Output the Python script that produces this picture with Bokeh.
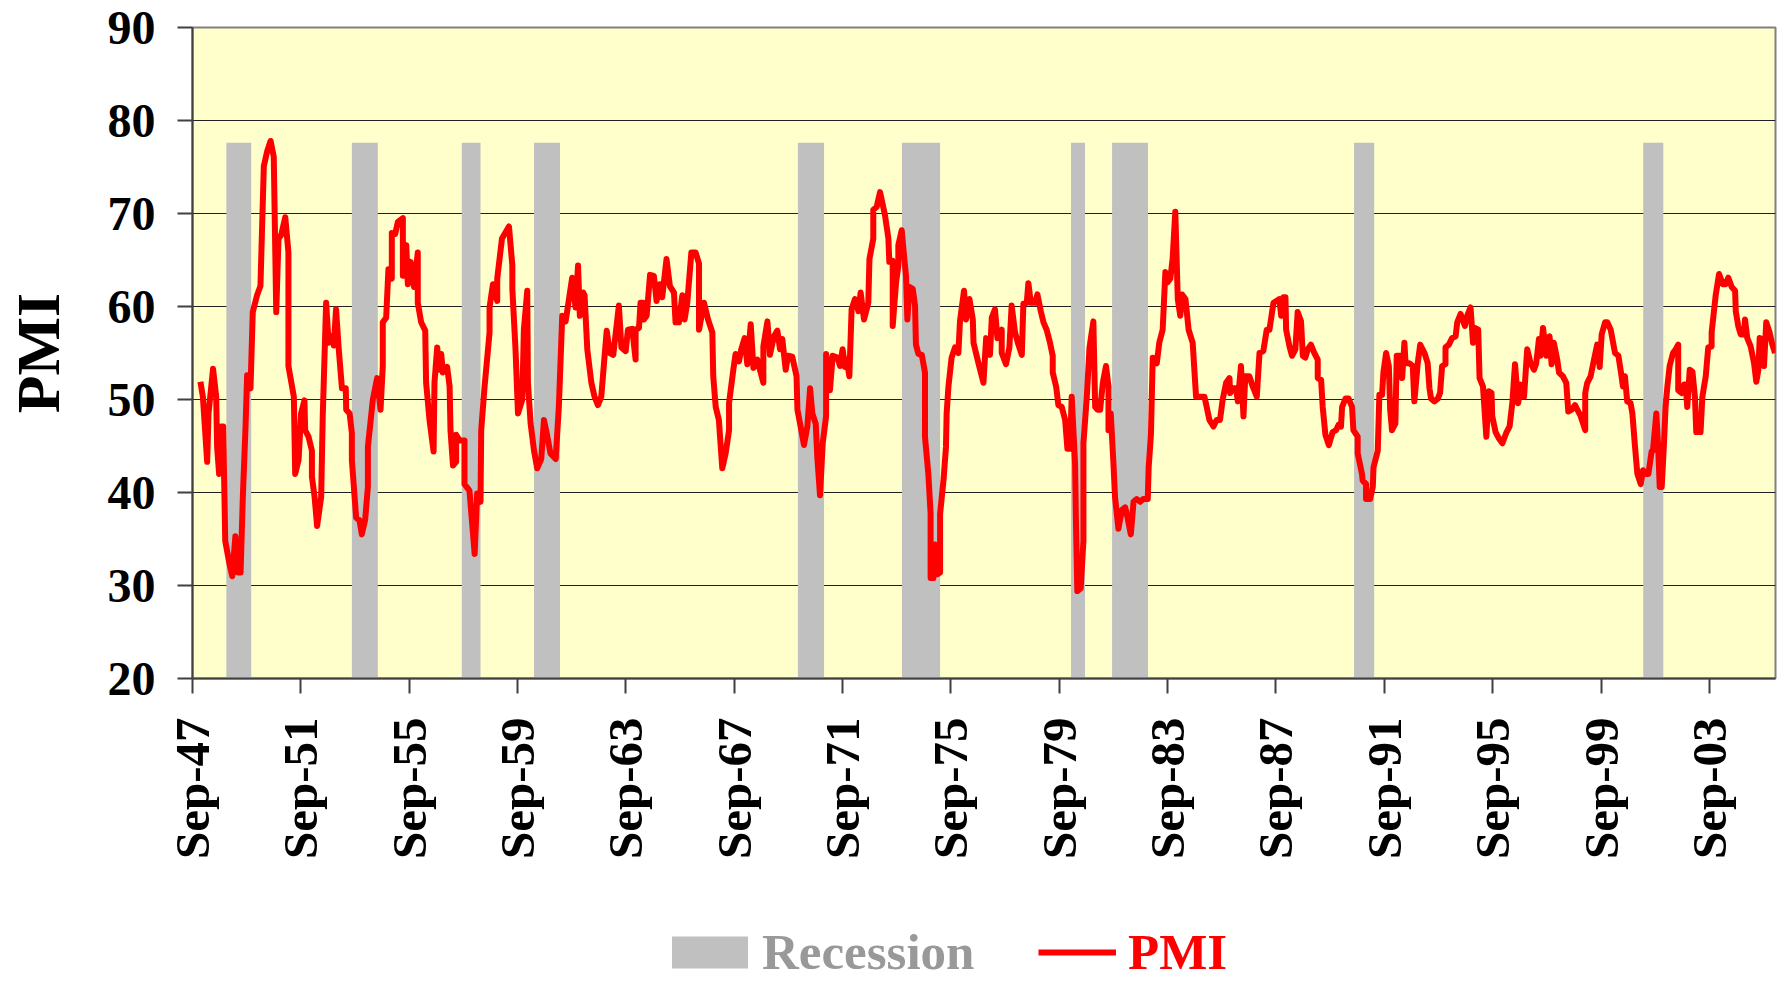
import math
from bokeh.plotting import figure
from bokeh.layouts import column
from bokeh.models import Range1d, FixedTicker, Legend, LegendItem, ColumnDataSource
from bokeh.embed import file_html
from bokeh.resources import INLINE

# ---------------- data ----------------
# x axis: months since Sep-1947; a tick label every 48 months
tick_labels = ["Sep-47", "Sep-51", "Sep-55", "Sep-59", "Sep-63", "Sep-67", "Sep-71",
               "Sep-75", "Sep-79", "Sep-83", "Sep-87", "Sep-91", "Sep-95", "Sep-99", "Sep-03"]
months_per_label = 48
x_end_month = 701.3

# recession periods (months since Sep-1947)
rec_start = [15.0, 70.6, 119.3, 151.3, 268.2, 314.3, 389.2, 407.4, 514.6, 642.7]
rec_end = [26.0, 82.1, 127.6, 162.8, 279.8, 331.2, 395.4, 423.3, 523.5, 651.6]
rec_level = 77.6
rec_floor = 20

# PMI (months since Sep-1947, index value)
pmi_month = [
    3.5, 4.6, 6.5, 7.1, 9.1, 10.5, 10.9, 11.8, 12.7, 13.6, 14.5, 16.4, 17.6, 19.0, 20.1, 21.3,
    22.3, 23.5, 24.2, 25.7, 26.7, 28.6, 30.1, 31.6, 33.1, 34.6, 36.0, 37.1, 38.1, 39.3, 41.1,
    42.5, 42.5, 44.9, 45.5, 47.0, 48.1, 49.6, 49.9, 51.4, 52.9, 52.9, 54.1, 55.2, 57.0, 57.7,
    59.2, 60.3, 61.7, 62.6, 63.6, 64.7, 66.2, 67.9, 68.1, 69.6, 70.6, 70.6, 72.5, 74.0, 75.0,
    76.5, 77.7, 77.7, 79.9, 81.8, 83.3, 84.3, 84.3, 85.8, 86.8, 88.3, 88.3, 89.8, 91.0, 93.2,
    93.2, 94.7, 95.4, 96.6, 98.1, 99.8, 99.8, 101.3, 103.1, 103.5, 105.0, 106.8, 107.2, 108.4,
    109.4, 110.2, 110.9, 112.8, 113.9, 114.3, 115.4, 116.8, 116.8, 118.3, 120.5, 120.5, 122.7,
    125.0, 126.1, 127.6, 127.9, 129.4, 131.6, 131.6, 133.1, 135.0, 135.0, 137.1,
    140.2, 141.7, 141.7, 143.1, 144.2, 146.1, 146.8, 148.3, 148.6, 149.8, 151.3, 152.7, 154.5,
    155.7, 156.9, 158.6, 160.9, 162.3, 163.8, 165.3, 166.8, 168.2, 169.7, 170.8, 171.6, 173.1,
    173.7, 174.9, 176.7, 178.1, 179.6, 181.1, 182.3, 183.5, 184.9, 186.4, 188.9, 190.0, 191.9,
    192.9, 194.8, 196.3, 196.3, 197.8, 198.5, 199.7, 200.0, 201.2, 202.7, 204.4, 205.6, 207.1,
    208.1, 210.0, 211.5, 213.3, 214.0, 215.5, 217.0, 218.0, 219.2, 221.0, 222.9, 224.4, 224.4,
    226.6, 228.4, 230.3, 230.7, 231.8, 233.2, 234.7, 236.2, 237.7, 237.7, 239.6, 240.6, 242.1,
    243.1, 244.6, 245.8, 247.3, 248.5, 250.2, 252.9, 252.9, 254.7, 255.8, 257.6, 259.1, 260.3,
    261.3, 262.8, 263.8, 265.7, 267.6, 268.0, 269.4, 270.9, 272.4, 273.6, 274.6, 276.1, 276.8,
    278.0, 279.2, 280.7, 280.7, 282.4, 283.6, 285.7, 286.9, 288.0, 289.1, 289.8, 291.0, 292.0,
    293.5, 295.0, 296.0, 297.5, 299.4, 299.9, 301.6, 301.6, 303.1, 304.6, 306.8, 308.3, 308.7,
    310.2, 310.2, 311.7, 312.7, 312.7, 314.2, 315.2, 316.1, 316.7, 317.6, 319.1, 320.1, 320.5,
    321.6, 323.1, 324.5, 324.5, 326.0, 327.0, 327.0, 328.2, 329.0, 330.0, 331.2, 331.2, 332.7,
    333.8, 334.1, 334.9, 336.3, 337.8, 339.3, 340.0, 341.8, 342.7, 344.2, 345.7, 346.0, 348.2,
    350.4, 351.6, 353.3, 354.1, 355.5, 356.6, 358.5, 358.5, 360.4, 361.9, 362.9, 364.4, 365.9,
    367.4, 368.1, 369.6, 370.3, 371.4, 373.3, 374.3, 375.8, 377.0, 378.4, 379.9, 381.1, 381.1,
    382.6, 383.6, 385.1, 386.6, 387.6, 388.8, 389.5, 391.0, 391.4, 392.0, 393.5, 394.7, 394.7,
    396.2, 397.4, 399.1, 399.9, 400.9, 402.1, 403.3, 404.7, 405.8, 405.8, 406.8, 408.0, 408.7,
    410.2, 411.7, 413.2, 413.9, 415.7, 416.9, 418.3, 419.8, 421.2, 423.2, 423.6, 424.6, 425.4,
    427.2, 428.3, 429.8, 431.0, 432.0, 433.2, 434.2, 435.4, 436.5, 437.6, 438.4, 439.9, 441.3,
    443.1, 444.6, 446.1, 448.3, 449.3, 450.5, 452.3, 453.7, 455.2, 456.4, 457.9, 459.4, 459.7,
    461.1, 462.3, 463.1, 464.5, 465.6, 466.4, 468.2, 469.7, 471.5, 472.7, 474.4, 475.9, 477.1,
    478.9, 480.3, 481.5, 482.3, 483.3, 484.2, 484.5, 486.0, 487.1, 488.6, 489.6, 491.1, 491.9,
    493.0, 494.1, 495.5, 497.0, 498.5, 498.5, 500.0, 500.7, 501.9, 503.4, 505.1, 506.6, 507.8,
    508.8, 509.3, 510.8, 512.2, 513.7, 514.3, 516.2, 516.2, 518.1, 518.4, 519.9, 519.9, 521.7,
    522.9, 523.2, 525.1, 525.8, 527.0, 527.6, 528.8, 530.0, 530.6, 531.4, 532.9, 533.5, 535.0,
    535.9, 536.9, 537.4, 539.1, 540.6, 541.3, 542.8, 543.9, 545.8, 547.2, 548.0, 548.7, 550.2,
    551.7, 552.7, 553.6, 555.1, 555.1, 556.6, 558.0, 559.6, 560.3, 561.8, 563.7, 564.7, 566.2,
    567.3, 568.1, 569.6, 570.2, 571.7, 573.2, 574.3, 575.5, 575.8, 577.3, 578.8, 580.3, 582.0,
    583.5, 584.7, 585.9, 587.3, 588.4, 589.9, 591.3, 592.8, 594.3, 595.3, 596.5, 597.2, 598.3,
    599.8, 601.2, 602.1, 603.1, 604.6, 605.4, 607.1, 608.6, 609.5, 611.0, 612.5, 613.5, 615.0,
    617.0, 617.0, 617.9, 619.4, 620.9, 622.3, 623.4, 624.3, 625.8, 626.8, 628.3, 630.2, 631.7,
    633.1, 633.7, 634.6, 635.6, 637.1, 637.9, 639.0, 640.1, 641.6, 642.6, 644.1, 645.0, 646.4,
    647.0, 648.5, 649.4, 650.0, 650.9, 651.9, 652.6, 653.4, 654.4, 655.9, 657.1, 658.2, 658.2,
    659.7, 660.8, 661.5, 662.2, 663.3, 664.5, 665.6, 666.2, 668.1, 668.9, 670.4, 671.5, 673.0,
    673.0, 674.8, 676.3, 678.0, 679.2, 680.4, 681.9, 683.4, 683.7, 684.8, 685.9, 687.3, 687.8,
    688.8, 690.3, 691.8, 692.8, 693.7, 694.3, 695.5, 696.2, 697.2, 698.7, 699.9, 701.1,
]
pmi_value = [
    51.9, 50.3, 43.3, 48.5, 53.3, 50.3, 44.9, 42.0, 47.1, 47.1, 34.8, 32.3, 31.0, 35.3, 31.4, 31.4,
    39.5, 47.1, 52.6, 51.2, 59.4, 61.2, 62.2, 75.1, 76.7, 77.8, 76.1, 59.4, 67.3, 67.7, 69.6,
    65.8, 53.6, 50.3, 42.0, 43.5, 48.5, 49.9, 46.7, 46.0, 44.5, 41.7, 39.5, 36.4, 39.5, 48.2,
    60.4, 56.1, 56.8, 55.8, 59.7, 55.7, 51.2, 51.2, 48.9, 48.5, 46.4, 43.5, 37.3, 37.0, 35.5,
    37.1, 40.6, 44.9, 50.0, 52.3, 48.9, 53.6, 58.3, 58.8, 64.0, 63.0, 67.9, 67.8, 69.1, 69.5,
    63.3, 66.6, 62.4, 64.8, 62.1, 65.8, 60.4, 58.3, 57.4, 51.8, 47.8, 44.4, 51.8, 55.6,
    53.2, 54.9, 52.9, 53.5, 51.4, 46.7, 42.9, 43.3, 46.2, 45.6, 45.6, 40.9, 40.2,
    33.4, 39.9, 39.0, 46.7, 51.4, 57.2, 59.9, 62.4, 60.6, 63.0, 67.3,
    68.6, 64.4, 61.9, 55.4, 48.5, 50.0, 57.5, 61.7, 51.8, 47.4, 44.5, 42.6, 43.6,
    47.8, 46.4, 44.2, 43.6, 49.2, 59.0, 58.4, 60.8, 63.1, 59.9, 64.4, 59.0, 61.5,
    61.2, 55.4, 51.8, 50.3, 49.4, 50.3, 53.9, 57.4, 55.0, 54.8, 60.1, 55.6, 55.2,
    57.5, 57.6, 54.3, 57.5, 57.7, 60.4, 60.4, 58.6, 59.0, 63.4, 63.3, 60.6, 62.4,
    61.0, 65.1, 62.2, 61.5, 58.3, 58.3, 61.2, 58.6, 60.4, 65.8, 65.8, 64.6, 57.5,
    60.4, 58.6, 57.2, 52.5, 49.2, 47.8, 42.6, 44.2, 46.7, 49.6, 53.2, 54.9, 54.1,
    55.4, 56.6, 53.8, 58.1, 53.4, 54.3, 51.8, 55.7, 58.4, 54.8, 56.8, 57.4, 55.4,
    56.5, 53.2, 54.7, 54.6, 52.5, 48.9, 47.1, 45.1, 47.1, 51.2, 48.5, 47.4, 43.8,
    39.7, 45.3, 48.2, 54.9, 51.0, 54.7, 54.5, 53.6, 55.4, 53.5, 54.3, 52.5, 59.7,
    60.8, 59.5, 61.5, 58.6, 60.4, 65.1, 67.3, 70.4, 70.7, 72.3, 69.8, 67.3, 64.8,
    64.9, 57.9, 62.6, 64.4, 66.6, 68.2, 65.5, 63.3, 58.6, 62.1, 61.9, 60.1, 55.9,
    54.9, 54.8, 52.9, 46.0, 42.0, 37.7, 30.8, 30.8, 34.4, 31.2, 31.4, 37.7, 41.3,
    44.9, 48.5, 51.4, 54.5, 55.6, 55.0, 58.4, 61.7, 58.6, 60.8, 58.6, 56.1, 53.9,
    51.8, 56.6, 54.8, 58.8, 59.7, 56.6, 57.5, 55.0, 53.8, 55.6, 60.1, 57.2, 55.9,
    54.8, 60.3, 60.4, 62.5, 60.4, 60.4, 61.3, 59.5, 58.3, 57.5, 56.1, 54.7, 52.9,
    51.4, 49.4, 49.2, 47.8, 44.7, 44.7, 50.3, 43.1, 36.6, 29.4, 29.7, 34.8, 45.3,
    50.3, 55.6, 58.4, 49.2, 48.9, 48.9, 51.8, 53.6, 51.4, 46.7, 48.5, 43.1, 39.5,
    36.1, 38.1, 38.4, 37.7, 35.5, 39.0, 39.3, 39.0, 39.3, 39.3, 42.7, 46.2, 54.5,
    53.9, 56.1, 57.5, 63.7, 62.6, 63.0, 65.1, 70.2, 60.8, 59.0, 61.3, 60.8, 57.5,
    56.1, 50.3, 50.3, 50.3, 49.2, 47.8, 47.1, 47.8, 47.8, 50.0, 51.8, 52.3, 50.7,
    51.2, 51.2, 49.8, 53.6, 48.2, 52.5, 52.5, 51.4, 50.3, 55.0, 55.2, 57.5, 57.5,
    60.4, 60.6, 60.8, 59.0, 61.0, 61.0, 57.5, 55.7, 54.7, 55.4, 59.4, 58.4, 54.7,
    54.5, 55.4, 55.9, 55.0, 54.3, 52.3, 52.1, 49.2, 46.2, 45.1, 46.5, 46.7, 47.3,
    47.1, 49.2, 50.1, 50.1, 49.2, 46.7, 46.0, 44.2, 42.0, 41.3, 40.9, 39.3, 39.3,
    40.6, 42.7, 44.5, 50.5, 50.5, 52.9, 55.0, 53.6, 48.9, 46.7, 47.4, 54.7, 54.7,
    52.3, 56.1, 53.9, 53.9, 53.6, 49.8, 53.9, 55.9, 55.0, 53.9, 51.2, 50.1, 49.8,
    50.1, 50.7, 53.6, 53.8, 55.6, 55.9, 56.6, 56.8, 58.3, 59.2, 57.9, 59.0, 59.9,
    56.1, 57.7, 57.5, 52.3, 51.4, 46.0, 50.9, 50.7, 48.2, 46.5, 45.8, 45.3, 46.4,
    47.1, 49.6, 53.8, 49.6, 51.6, 50.3, 55.4, 53.9, 53.2, 53.9, 56.5, 54.7, 57.7,
    54.7, 56.8, 53.8, 56.1, 54.3, 52.9, 52.5, 51.8, 48.7, 48.9, 49.4, 48.9, 48.2,
    46.7, 50.7, 51.8, 52.5, 54.3, 55.9, 53.5, 57.0, 58.3, 58.3, 57.5, 55.0, 54.7,
    52.5, 51.4, 52.5, 49.8, 49.6, 48.5, 45.1, 42.0, 40.9, 42.4, 42.0, 42.0, 44.4,
    44.5, 48.5, 44.5, 40.6, 40.6, 45.3, 49.2, 51.4, 53.6, 55.0, 55.4, 55.9, 51.0,
    50.7, 51.6, 51.6, 49.2, 53.2, 53.0, 50.3, 46.5, 46.5, 50.3, 52.5, 55.6, 55.7,
    57.2, 61.2, 63.5, 62.4, 62.4, 63.1, 62.1, 61.7, 59.5, 57.9, 57.0, 57.0, 58.6,
    56.6, 55.7, 53.9, 51.9, 53.2, 56.6, 56.5, 53.6, 58.3, 57.2, 55.9, 55.0,
]

# ---------------- styling constants ----------------
FONT = "Liberation Serif"
BG = "#FFFFCC"
REC_COLOR = "#C0C0C0"
LINE_COLOR = "#FF0000"
W = 1777
H_MAIN = 900
H_LEG = 81

p = figure(width=W, height=H_MAIN, output_backend="svg", toolbar_location=None,
           x_range=Range1d(0, x_end_month), y_range=Range1d(20, 90),
           min_border_left=192, min_border_right=2, min_border_top=27,
           min_border_bottom=H_MAIN - 27 - 651, background_fill_color=BG,
           border_fill_color="white")

p.outline_line_color = "#808080"
p.outline_line_width = 2

rec_src = ColumnDataSource(dict(left=rec_start, right=rec_end,
                                bottom=[rec_floor] * len(rec_start),
                                top=[rec_level] * len(rec_start)))
rec_r = p.quad(left="left", right="right", bottom="bottom", top="top",
               source=rec_src, fill_color=REC_COLOR, line_color=None)

pmi_src = ColumnDataSource(dict(x=pmi_month, y=pmi_value))
pmi_r = p.line("x", "y", source=pmi_src, line_color=LINE_COLOR, line_width=6,
               line_join="round")

# grid
p.xgrid.grid_line_color = None
p.ygrid.grid_line_color = "#202020"
p.ygrid.grid_line_width = 1
p.ygrid.ticker = FixedTicker(ticks=[30, 40, 50, 60, 70, 80])

# y axis
p.yaxis.ticker = FixedTicker(ticks=[20, 30, 40, 50, 60, 70, 80, 90])
p.yaxis.axis_label = "PMI"
p.yaxis.axis_label_text_font = FONT
p.yaxis.axis_label_text_font_style = "bold"
p.yaxis.axis_label_text_font_size = "62px"
p.yaxis.axis_label_text_color = "black"
p.yaxis.axis_label_standoff = 33
p.yaxis.major_label_text_font = FONT
p.yaxis.major_label_text_font_style = "bold"
p.yaxis.major_label_text_font_size = "48px"
p.yaxis.major_label_text_color = "black"
p.yaxis.major_label_standoff = 22

# x axis
tick_pos = [i * months_per_label for i in range(len(tick_labels))]
p.xaxis.ticker = FixedTicker(ticks=tick_pos)
p.xaxis.major_label_overrides = {t: lab for t, lab in zip(tick_pos, tick_labels)}
p.xaxis.major_label_orientation = math.pi / 2
p.xaxis.major_label_text_font = FONT
p.xaxis.major_label_text_font_style = "bold"
p.xaxis.major_label_text_font_size = "49px"
p.xaxis.major_label_text_color = "black"
p.xaxis.major_label_standoff = 24

for ax in (p.xaxis, p.yaxis):
    ax.axis_line_color = "#404040"
    ax.axis_line_width = 2
    ax.major_tick_line_color = "#404040"
    ax.major_tick_line_width = 2
    ax.major_tick_out = 15
    ax.major_tick_in = 0
    ax.minor_tick_line_color = None

# ---------------- legend strip (separate figure below the chart) ----------------
# Its frame is aligned with the chart frame; the series are drawn there too but
# lie outside its (negative) y range, so only the legend entries are visible.
q = figure(width=W, height=H_LEG, output_backend="svg", toolbar_location=None,
           x_range=Range1d(0, x_end_month), y_range=Range1d(-100, -10),
           x_axis_type=None, y_axis_type=None,
           min_border_left=0, min_border_right=0, min_border_top=0, min_border_bottom=0,
           background_fill_color="white", border_fill_color="white")
q.outline_line_color = None
q.xgrid.visible = False
q.ygrid.visible = False
leg_rec = q.quad(left="left", right="right", bottom="bottom", top="top",
                 source=rec_src, fill_color=REC_COLOR, line_color=None)
leg_pmi = q.line("x", "y", source=pmi_src, line_color=LINE_COLOR, line_width=6)


def make_legend(item, loc, color, gw, gh, standoff):
    return Legend(items=[item], location=loc, orientation="horizontal",
                  label_text_font=FONT, label_text_font_style="bold",
                  label_text_font_size="51px", label_text_color=color,
                  glyph_width=gw, glyph_height=gh, label_standoff=standoff,
                  padding=0, spacing=0, margin=0,
                  border_line_alpha=0, background_fill_alpha=0)


leg1 = make_legend(LegendItem(label="Recession", renderers=[leg_rec]), (470, 0),
                   "#999999", 95, 40, 5)
leg2 = make_legend(LegendItem(label="PMI", renderers=[leg_pmi]), (846, 0),
                   LINE_COLOR, 78, 32, 12)
q.add_layout(leg1, "center")
q.add_layout(leg2, "center")

layout = column(p, q, spacing=0)
open("out.html", "w").write(file_html(layout, INLINE))
